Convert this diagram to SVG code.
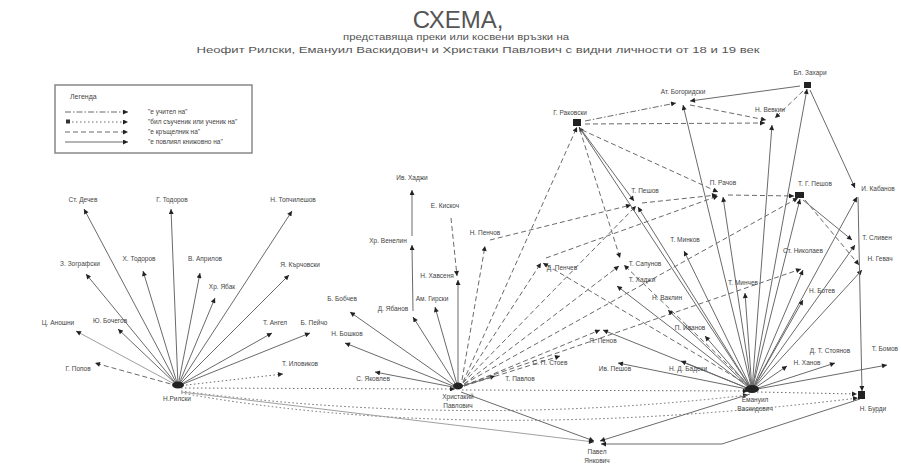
<svg xmlns="http://www.w3.org/2000/svg" width="901" height="465" viewBox="0 0 901 465">
<defs>
<marker id="ah" viewBox="0 0 10 10" refX="10" refY="5" markerWidth="6" markerHeight="5" orient="auto" markerUnits="userSpaceOnUse"><path d="M0,0 L10,5 L0,10 z" fill="#222"/></marker>
<style>
.bg{fill:#fff}
line,path.c{fill:none;stroke:#6a6a6a;stroke-width:1;marker-end:url(#ah)}
.s{}
.d{stroke-dasharray:5 3}
.o{stroke-dasharray:1.5 2.5}
.dd{stroke-dasharray:6 2 1.5 2}
.lt{stroke:#a0a0a0}
text{font-family:"Liberation Sans",Arial,sans-serif;fill:#444;font-size:6.5px;text-anchor:middle}
.t{font-size:24px;fill:#555}
.st{font-size:8.5px;fill:#555}
.lg{text-anchor:start;font-size:6.5px}
.hub{fill:#222}
</style>
</defs>
<rect class="bg" width="901" height="465"/>

<g id="title">
<text class="t" x="458" y="28">СХЕМА,</text>
<text class="st" x="456" y="40" textLength="226" lengthAdjust="spacingAndGlyphs">представяща преки или косвени връзки на</text>
<text class="st" x="478" y="53" textLength="563" lengthAdjust="spacingAndGlyphs">Неофит Рилски, Емануил Васкидович и Христаки Павлович с видни личности от 18 и 19 век</text>
</g>

<g id="legend">
<rect x="55" y="85" width="197" height="68" fill="none" stroke="#888" stroke-width="1.5"/>
<text class="lg" x="70" y="99" style="font-size:7px">Легенда</text>
<line class="dd" x1="65" y1="112" x2="128" y2="112"/>
<rect x="66" y="119.5" width="4" height="4" fill="#333"/>
<line class="o" x1="72" y1="122" x2="128" y2="122"/>
<line class="d" x1="65" y1="132" x2="128" y2="132"/>
<line class="s" x1="65" y1="142" x2="128" y2="142"/>
<text class="lg" x="148" y="114">"е учител на"</text>
<text class="lg" x="148" y="124">"бил съученик или ученик на"</text>
<text class="lg" x="148" y="134">"е кръщелник на"</text>
<text class="lg" x="148" y="144">"е повлиял книжовно на"</text>
</g>

<g id="connectors">
<!-- left hub -->
<line class="s" x1="178" y1="386" x2="84" y2="209"/>
<line class="s" x1="178" y1="386" x2="171" y2="209"/>
<line class="s" x1="178" y1="386" x2="292" y2="211"/>
<line class="s" x1="178" y1="386" x2="86" y2="274"/>
<line class="s" x1="178" y1="386" x2="143" y2="271"/>
<line class="s" x1="178" y1="386" x2="200" y2="273"/>
<line class="s" x1="178" y1="386" x2="289" y2="275"/>
<line class="s" x1="178" y1="386" x2="215" y2="298"/>
<line class="s lt" x1="178" y1="386" x2="76" y2="331"/>
<line class="s" x1="178" y1="386" x2="118" y2="329"/>
<line class="s" x1="178" y1="386" x2="272" y2="333"/>
<line class="s" x1="178" y1="386" x2="310" y2="333"/>
<line class="o" x1="178" y1="386" x2="283" y2="374"/>
<line class="d" x1="178" y1="386" x2="95" y2="363"/>
<!-- bottom lines -->
<line class="o" x1="181" y1="388" x2="455" y2="389"/>
<line class="o" x1="462" y1="390" x2="748" y2="391"/>
<path class="c o" d="M181,391 Q465,428 748,395"/>
<path class="c o" d="M181,393 Q470,445 858,398"/>
<line class="s lt" x1="181" y1="392" x2="594" y2="442"/>
<line class="s" x1="461" y1="392" x2="594" y2="441"/>
<line class="s" x1="750" y1="394" x2="600" y2="441"/>
<path class="c s" d="M860,399 L722,444 L601,444"/>
<line class="o" x1="757" y1="392" x2="857" y2="394"/>
<!-- middle hub -->
<line class="s" x1="458" y1="388" x2="350" y2="312"/>
<line class="s" x1="458" y1="388" x2="413" y2="317"/>
<line class="s" x1="458" y1="388" x2="435" y2="307"/>
<line class="s" x1="458" y1="388" x2="345" y2="343"/>
<line class="s" x1="458" y1="388" x2="375" y2="372"/>
<line class="s" x1="458" y1="388" x2="458" y2="280"/>
<line class="s" x1="413" y1="311" x2="412" y2="245"/>
<line class="s" x1="412" y1="236" x2="412" y2="190"/>
<line class="d" x1="451" y1="218" x2="457" y2="276"/>
<line class="d" x1="462" y1="380" x2="485" y2="246"/>
<line class="s" x1="462" y1="386" x2="495" y2="376"/>
<line class="d" x1="463" y1="382" x2="577" y2="127"/>
<line class="d" x1="463" y1="383" x2="636" y2="206"/>
<line class="d" x1="463" y1="383" x2="541" y2="263"/>
<line class="d" x1="464" y1="384" x2="619" y2="266"/>
<line class="d" x1="464" y1="384" x2="798" y2="198"/>
<line class="d" x1="464" y1="385" x2="801" y2="269"/>
<line class="d" x1="464" y1="386" x2="600" y2="330"/>
<line class="d" x1="464" y1="386" x2="560" y2="356"/>
<line class="d" x1="490" y1="240" x2="631" y2="205"/>
<!-- right hub -->
<line class="s" x1="752" y1="390" x2="579" y2="127"/>
<line class="s" x1="752" y1="390" x2="683" y2="105"/>
<line class="s" x1="752" y1="390" x2="772" y2="125"/>
<line class="s" x1="752" y1="390" x2="807" y2="89"/>
<line class="s" x1="752" y1="390" x2="723" y2="197"/>
<line class="s" x1="752" y1="390" x2="800" y2="199"/>
<line class="s" x1="752" y1="390" x2="857" y2="197"/>
<line class="s" x1="752" y1="390" x2="638" y2="207"/>
<line class="s" x1="752" y1="390" x2="684" y2="251"/>
<line class="s" x1="752" y1="390" x2="668" y2="310"/>
<line class="s" x1="752" y1="390" x2="617" y2="286"/>
<line class="s" x1="752" y1="390" x2="705" y2="336"/>
<line class="s" x1="752" y1="390" x2="803" y2="270"/>
<line class="s" x1="752" y1="390" x2="803" y2="300"/>
<line class="s" x1="752" y1="390" x2="745" y2="293"/>
<line class="s" x1="752" y1="390" x2="855" y2="245"/>
<line class="s" x1="752" y1="390" x2="862" y2="270"/>
<line class="s" x1="752" y1="390" x2="835" y2="363"/>
<line class="s" x1="752" y1="390" x2="787" y2="366"/>
<line class="s" x1="752" y1="390" x2="887" y2="365"/>
<line class="s" x1="752" y1="390" x2="603" y2="330"/>
<line class="s" x1="752" y1="390" x2="618" y2="363"/>
<line class="s" x1="752" y1="390" x2="681" y2="361"/>
<line class="d" x1="750" y1="386" x2="624" y2="265"/>
<line class="d" x1="750" y1="386" x2="543" y2="263"/>
<!-- top cluster -->
<line class="dd" x1="585" y1="121" x2="676" y2="103"/>
<line class="s" x1="800" y1="86" x2="690" y2="101"/>
<line class="d" x1="585" y1="124" x2="765" y2="123"/>
<line class="d" x1="690" y1="105" x2="766" y2="120"/>
<line class="d" x1="803" y1="91" x2="775" y2="118"/>
<line class="s" x1="810" y1="90" x2="855" y2="188"/>
<line class="s" x1="580" y1="128" x2="634" y2="201"/>
<line class="d" x1="582" y1="130" x2="718" y2="192"/>
<line class="d" x1="580" y1="130" x2="620" y2="258"/>
<line class="d" x1="642" y1="203" x2="717" y2="195"/>
<line class="d" x1="728" y1="195" x2="794" y2="196"/>
<line class="d" x1="546" y1="258" x2="718" y2="196"/>
<line class="s" x1="803" y1="200" x2="852" y2="240"/>
<line class="d" x1="805" y1="200" x2="859" y2="265"/>
<line class="s" x1="858" y1="197" x2="862" y2="391"/>
</g>

<g id="hubs">
<ellipse class="hub" cx="178" cy="385" rx="6" ry="3.5"/>
<ellipse class="hub" cx="458" cy="386" rx="5" ry="3.5"/>
<ellipse class="hub" cx="752" cy="389" rx="7" ry="4"/>
<rect class="hub" x="573" y="119" width="8" height="7"/>
<rect class="hub" x="795" y="192" width="9" height="6"/>
<rect class="hub" x="858" y="391" width="7" height="8"/>
<rect class="hub" x="804" y="82" width="7" height="6"/>
</g>

<g id="n-l-hub"><text x="177" y="401">Н.Рилски</text></g>
<g id="n-dechev"><text x="83" y="202">Ст. Дечев</text></g>
<g id="n-todorov"><text x="172" y="202">Г. Тодоров</text></g>
<g id="n-topch"><text x="293" y="202">Н. Топчилешов</text></g>
<g id="n-zograf"><text x="80" y="266">З. Зографски</text></g>
<g id="n-htodor"><text x="139" y="261">Х. Тодоров</text></g>
<g id="n-april"><text x="205" y="261">В. Априлов</text></g>
<g id="n-karch"><text x="300" y="267">Я. Кърчовски</text></g>
<g id="n-yabak"><text x="222" y="289">Хр. Ябак</text></g>
<g id="n-anoshni"><text x="58" y="325">Ц. Аношни</text></g>
<g id="n-bocheg"><text x="110" y="323">Ю. Бочегов</text></g>
<g id="n-angel"><text x="275" y="325">Т. Ангел</text></g>
<g id="n-peicho"><text x="314" y="325">Б. Пейчо</text></g>
<g id="n-ilov"><text x="300" y="366">Т. Иловиков</text></g>
<g id="n-popov"><text x="78" y="371">Г. Попов</text></g>

<g id="n-m-hub"><text x="458" y="399">Христакий</text><text x="458" y="408">Павлович</text></g>
<g id="n-hadzhi"><text x="412" y="180">Ив. Хаджи</text></g>
<g id="n-venelin"><text x="388" y="243">Хр. Венелин</text></g>
<g id="n-yabanov"><text x="393" y="311">Д. Ябанов</text></g>
<g id="n-kiskoch"><text x="445" y="208">Е. Кискоч</text></g>
<g id="n-havsenya"><text x="437" y="278">Н. Хавсеня</text></g>
<g id="n-penchov"><text x="485" y="235">Н. Пенчов</text></g>
<g id="n-bobchev"><text x="342" y="301">Б. Бобчев</text></g>
<g id="n-girski"><text x="432" y="301">Ам. Гирски</text></g>
<g id="n-boshkov"><text x="347" y="336">Н. Бошков</text></g>
<g id="n-yakovl"><text x="373" y="381">С. Яковлев</text></g>
<g id="n-pavlov"><text x="520" y="381">Т. Павлов</text></g>

<g id="n-r-hub"><text x="755" y="402">Емануил</text><text x="755" y="411">Васкидович</text></g>
<g id="n-zahari"><text x="810" y="75">Бл. Захари</text></g>
<g id="n-bogor"><text x="683" y="94">Ат. Богоридски</text></g>
<g id="n-rakov"><text x="570" y="115">Г. Раковски</text></g>
<g id="n-vevkin"><text x="770" y="112">Н. Вевкин</text></g>
<g id="n-rachov"><text x="723" y="185">П. Рачов</text></g>
<g id="n-gpeshov"><text x="815" y="186">Т. Г. Пешов</text></g>
<g id="n-kabanov"><text x="878" y="191">И. Кабанов</text></g>
<g id="n-tpeshov"><text x="645" y="193">Т. Пешов</text></g>
<g id="n-penchev"><text x="562" y="270">Д. Пенчев</text></g>
<g id="n-minkov"><text x="685" y="242">Т. Минков</text></g>
<g id="n-sapunov"><text x="645" y="266">Т. Сапунов</text></g>
<g id="n-thadzhi"><text x="642" y="282">Т. Хаджи</text></g>
<g id="n-vaklin"><text x="667" y="300">Н. Ваклин</text></g>
<g id="n-sliven"><text x="877" y="240">Т. Сливен</text></g>
<g id="n-gevach"><text x="880" y="261">Н. Гевач</text></g>
<g id="n-nikolaev"><text x="803" y="253">Ст. Николаев</text></g>
<g id="n-botev"><text x="822" y="293">Н. Ботев</text></g>
<g id="n-minchev"><text x="743" y="285">Т. Минчев</text></g>
<g id="n-ivanov"><text x="690" y="330">П. Иванов</text></g>
<g id="n-penov"><text x="603" y="343">Я. Пенов</text></g>
<g id="n-stoev"><text x="550" y="365">С. П. Стоев</text></g>
<g id="n-ivpeshov"><text x="615" y="371">Ив. Пешов</text></g>
<g id="n-badeki"><text x="688" y="371">Н. Д. Бадеки</text></g>
<g id="n-stoyanov"><text x="830" y="353">Д. Т. Стоянов</text></g>
<g id="n-hanov"><text x="807" y="365">Н. Ханов</text></g>
<g id="n-bomov"><text x="898" y="351" style="text-anchor:end">Т. Бомов</text></g>
<g id="n-burdi"><text x="873" y="411">Н. Бурди</text></g>
<g id="n-bottom"><text x="597" y="454">Павел</text><text x="597" y="463">Янкович</text></g>
</svg>
